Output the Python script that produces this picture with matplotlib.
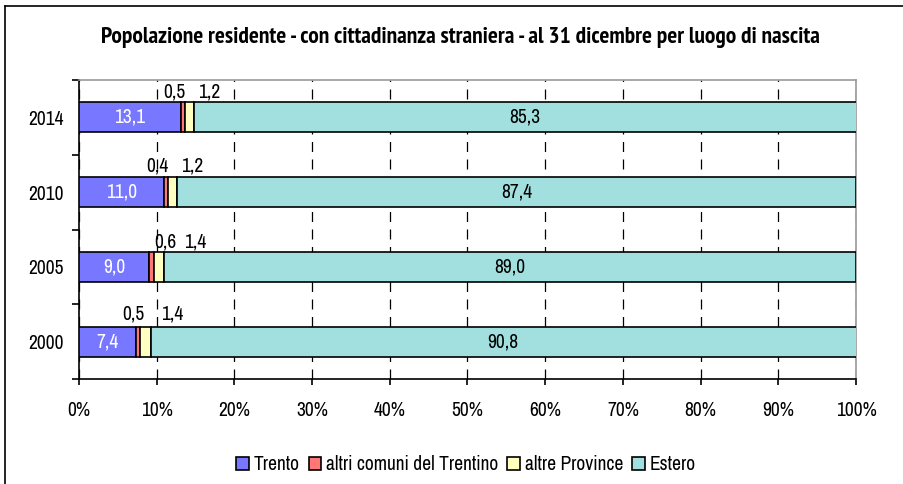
import matplotlib
matplotlib.use("Agg")
import matplotlib.pyplot as plt
from matplotlib.lines import Line2D
import numpy as np

# data
years = ["2000", "2005", "2010", "2014"]
trento = [7.4, 9.0, 11.0, 13.1]
altri_comuni = [0.5, 0.6, 0.4, 0.5]
altre_province = [1.4, 1.4, 1.2, 1.2]
estero = [90.8, 89.0, 87.4, 85.3]

series_names = ["Trento", "altri comuni del Trentino", "altre Province", "Estero"]
colors = ["#7777FF", "#FF7777", "#FFFFC0", "#A2E0E0"]

# pixel offsets (dx, dy) of the small labels, as placed in the original
red_offsets = [(-5, 28), (14, 25), (-9, 26), (-8, 25)]
yellow_offsets = [(26, 28), (36, 25), (20, 26), (20, 25)]

plt.rcParams['font.family'] = ['Archivo Narrow', 'Liberation Sans', 'DejaVu Sans']
FS = 14

fig = plt.figure(figsize=(9.04, 4.84), dpi=100)
ax = fig.add_axes([79 / 904, 1 - 379 / 484, 777 / 904, 299 / 484])

y = np.arange(len(years))
data = [trento, altri_comuni, altre_province, estero]
left = np.zeros(len(years))
for vals, c, name in zip(data, colors, series_names):
    ax.barh(y, vals, left=left, height=0.4, color=c, edgecolor="black",
            linewidth=1.2, label=name, zorder=3)
    left = left + np.array(vals)

fmt = lambda v: f"{v:.1f}".replace(".", ",")

for i in range(len(years)):
    ax.text(trento[i] / 2, y[i], fmt(trento[i]), ha="center", va="center",
            color="white", fontsize=FS, zorder=4)
    ax.text(100 - estero[i] / 2, y[i], fmt(estero[i]), ha="center", va="center",
            color="black", fontsize=FS, zorder=4)
    rc = trento[i] + altri_comuni[i] / 2
    yc = trento[i] + altri_comuni[i] + altre_province[i] / 2
    ax.annotate(fmt(altri_comuni[i]), (rc, y[i]), xytext=(red_offsets[i][0] * 0.72, red_offsets[i][1] * 0.72),
                textcoords="offset points", ha="center", va="center", fontsize=FS, zorder=4)
    ax.annotate(fmt(altre_province[i]), (yc, y[i]), xytext=(yellow_offsets[i][0] * 0.72, yellow_offsets[i][1] * 0.72),
                textcoords="offset points", ha="center", va="center", fontsize=FS, zorder=4)

ax.set_xlim(0, 100)
ax.set_ylim(-0.5, len(years) - 0.5)
ax.set_xticks(np.arange(0, 101, 10))
ax.set_xticklabels([f"{v}%" for v in range(0, 101, 10)], fontsize=FS)
ax.set_yticks(y)
ax.set_yticklabels(years, fontsize=FS)
ax.set_yticks(np.arange(-0.5, len(years), 1), minor=True)
ax.tick_params(axis="y", which="major", length=0, pad=11)
ax.tick_params(axis="y", which="minor", length=5, width=1.2)
ax.tick_params(axis="x", length=4, width=1.2, pad=12)
ax.xaxis.grid(True, color="black", linestyle=(0, (8, 6)), linewidth=0.9, zorder=1)

ax.spines["left"].set_linewidth(1.2)
ax.spines["bottom"].set_linewidth(1.2)
ax.spines["top"].set_color("#999999")
ax.spines["right"].set_color("#999999")
ax.spines["top"].set_linewidth(1.2)
ax.spines["right"].set_linewidth(1.2)

fig.text(460 / 904, 1 - 37 / 484, "Popolazione residente - con cittadinanza straniera - al 31 dicembre per luogo di nascita",
         ha="center", va="center", fontsize=16.8, fontweight="bold", family=["PT Sans Narrow", "DejaVu Sans"])

fig.legend(loc="center", bbox_to_anchor=(466 / 904, 1 - 465 / 484), ncol=4, frameon=False,
           fontsize=FS, handlelength=0.65, handleheight=0.65, handletextpad=0.25, columnspacing=0.45)

# outer frame (only left and top edges visible in the original)
fig.add_artist(Line2D([5 / 904, 5 / 904], [0, 1 - 6 / 484], transform=fig.transFigure, color="black", linewidth=1.2))
fig.add_artist(Line2D([5 / 904, 1], [1 - 6 / 484, 1 - 6 / 484], transform=fig.transFigure, color="black", linewidth=1.2))

fig.savefig("out.png", dpi=100)
